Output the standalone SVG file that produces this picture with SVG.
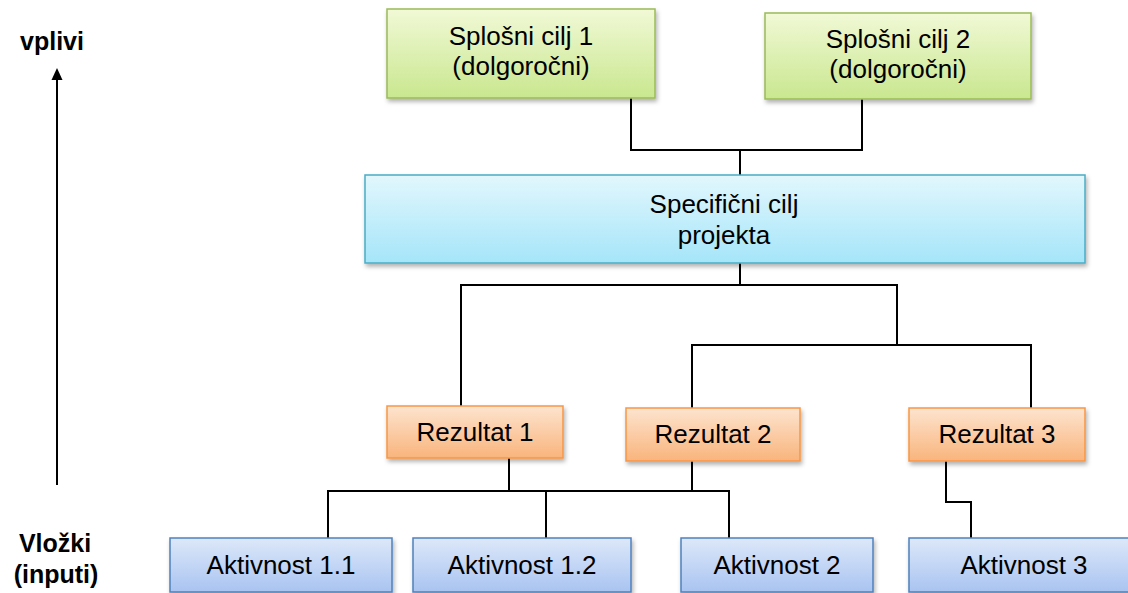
<svg xmlns="http://www.w3.org/2000/svg" width="1128" height="593" viewBox="0 0 1128 593">
<style>
.t{font-family:"Liberation Sans",Arial,sans-serif;font-size:26px;fill:#000;text-anchor:middle}
.lbl{font-family:"Liberation Sans",Arial,sans-serif;font-size:25px;font-weight:bold;fill:#000;text-anchor:middle}
.c{fill:none;stroke:#000;stroke-width:2}
.g{fill:url(#gG);stroke:#9bbb59;stroke-width:1.5;filter:url(#sh)}
.b{fill:url(#gB);stroke:#4bacc6;stroke-width:1.5;filter:url(#sh)}
.o{fill:url(#gO);stroke:#f79646;stroke-width:1.5;filter:url(#sh)}
.a{fill:url(#gA);stroke:#4f81bd;stroke-width:1.5;filter:url(#sh)}
</style>
<defs>
<linearGradient id="gG" x1="0" y1="0" x2="0" y2="1"><stop offset="0" stop-color="#f1f9d6"/><stop offset="1" stop-color="#c9e78f"/></linearGradient>
<linearGradient id="gB" x1="0" y1="0" x2="0" y2="1"><stop offset="0" stop-color="#e2f7fd"/><stop offset="1" stop-color="#a5e5f9"/></linearGradient>
<linearGradient id="gO" x1="0" y1="0" x2="0" y2="1"><stop offset="0" stop-color="#fde4cf"/><stop offset="1" stop-color="#f9b47c"/></linearGradient>
<linearGradient id="gA" x1="0" y1="0" x2="0" y2="1"><stop offset="0" stop-color="#dde8f9"/><stop offset="1" stop-color="#a9c4f1"/></linearGradient>
<filter id="sh" x="-10%" y="-20%" width="120%" height="150%"><feDropShadow dx="1.5" dy="3" stdDeviation="2" flood-color="#000" flood-opacity="0.3"/></filter>
<marker id="ah" markerUnits="userSpaceOnUse" markerWidth="12" markerHeight="13" refX="6" refY="1" orient="auto-start-reverse" viewBox="0 0 12 13"><path d="M0,13 L6,0 L12,13 Z" fill="#000"/></marker>
</defs>

<g id="axis">
<text class="lbl" x="52" y="50">vplivi</text>
<line x1="57" y1="485" x2="57" y2="80" stroke="#000" stroke-width="2"/>
<path d="M51.5,80 L57,68 L62.5,80 Z" fill="#000"/>
<text class="lbl" x="55" y="552">Vložki</text>
<text class="lbl" x="56" y="583">(inputi)</text>
</g>

<g id="connectors">
<path class="c" d="M631,98 V150 H862 V99"/>
<path class="c" d="M740,150 V175"/>
<path class="c" d="M740,263 V285"/>
<path class="c" d="M461,406 V285 H897 V345"/>
<path class="c" d="M692,408 V345 H1031 V408"/>
<path class="c" d="M509,458 V491"/>
<path class="c" d="M328,538 V491 H729 V538"/>
<path class="c" d="M546,491 V538"/>
<path class="c" d="M692,461 V491"/>
<path class="c" d="M946,461 V502 H971 V538"/>
</g>

<g id="splosni1"><rect class="g" x="387" y="9" width="268" height="89"/>
<text class="t" x="521" y="45">Splošni cilj 1</text><text class="t" x="521" y="75">(dolgoročni)</text></g>
<g id="splosni2"><rect class="g" x="765" y="13" width="266" height="86"/>
<text class="t" x="898" y="48">Splošni cilj 2</text><text class="t" x="898" y="78">(dolgoročni)</text></g>
<g id="specificni"><rect class="b" x="365" y="175" width="720" height="88"/>
<text class="t" x="724" y="213">Specifični cilj</text><text class="t" x="724" y="244">projekta</text></g>

<g id="rezultat1"><rect class="o" x="387" y="406" width="176" height="52"/><text class="t" x="475" y="441">Rezultat 1</text></g>
<g id="rezultat2"><rect class="o" x="626" y="408" width="174" height="53"/><text class="t" x="713" y="443">Rezultat 2</text></g>
<g id="rezultat3"><rect class="o" x="909" y="408" width="176" height="53"/><text class="t" x="997" y="443">Rezultat 3</text></g>

<g id="aktivnost11"><rect class="a" x="170" y="538" width="222" height="54"/><text class="t" x="281" y="574">Aktivnost 1.1</text></g>
<g id="aktivnost12"><rect class="a" x="413" y="538" width="218" height="54"/><text class="t" x="522" y="574">Aktivnost 1.2</text></g>
<g id="aktivnost2"><rect class="a" x="681" y="538" width="192" height="54"/><text class="t" x="777" y="574">Aktivnost 2</text></g>
<g id="aktivnost3"><rect class="a" x="909" y="538" width="230" height="54"/><text class="t" x="1024" y="574">Aktivnost 3</text></g>
</svg>
